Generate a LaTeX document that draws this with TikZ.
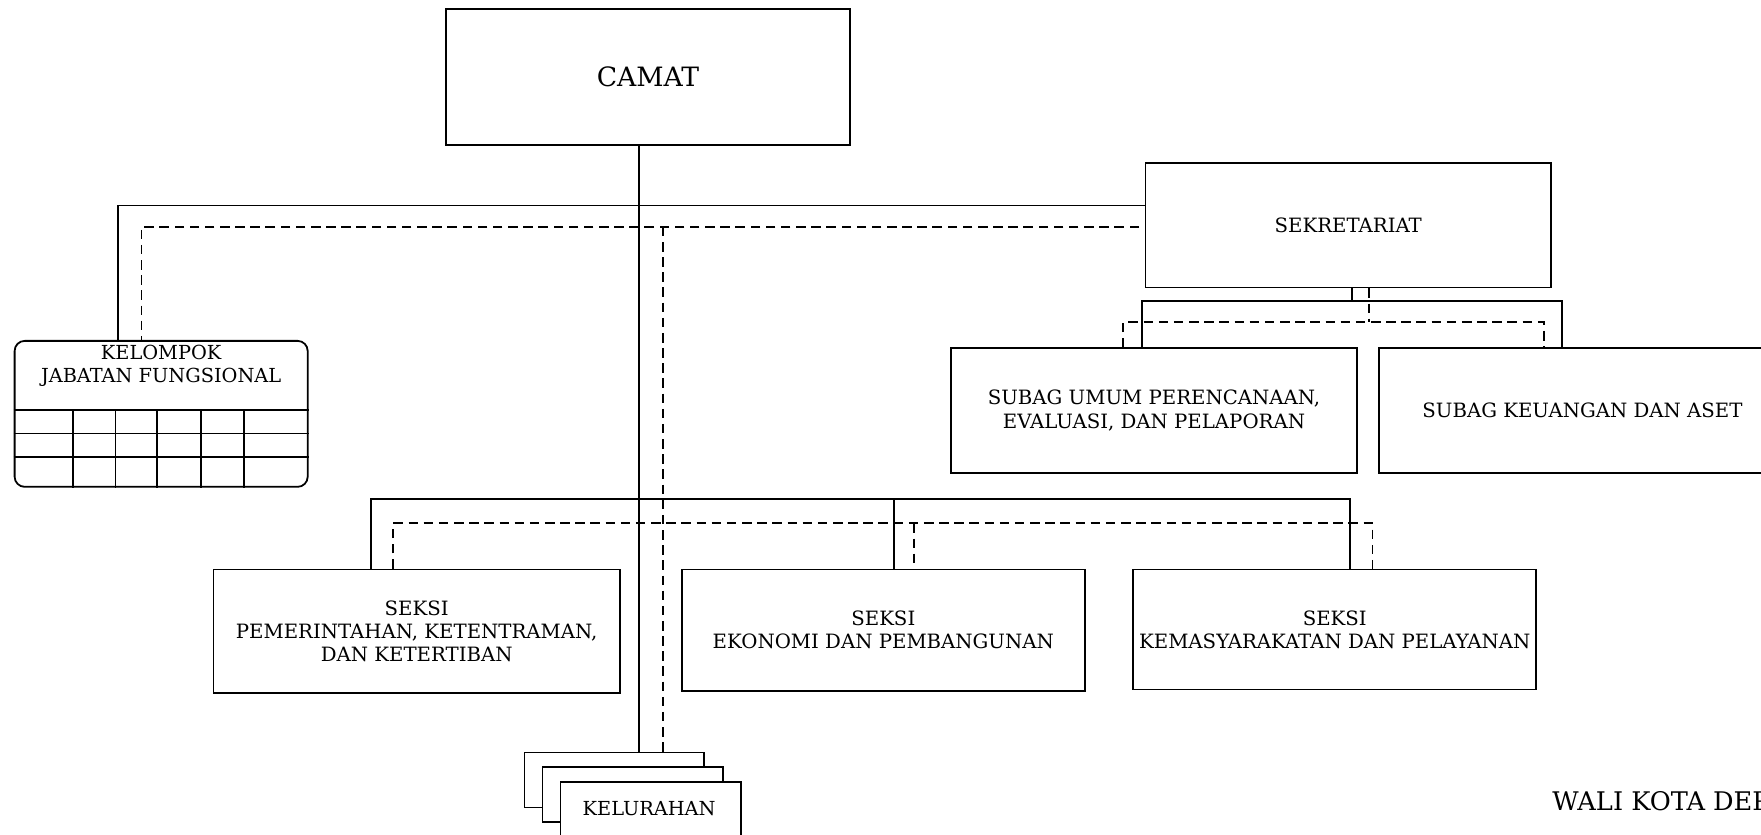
\documentclass[tikz,border=0pt]{standalone}
\usepackage{fontspec}
\setmainfont{DejaVu Serif}
\usetikzlibrary{calc}
\begin{document}
\begin{tikzpicture}[x=0.02cm,y=-0.02cm,
  box/.style={draw, line width=0.9pt, align=center, inner sep=0pt, font=\fontsize{10}{12.5}\selectfont},
  conn/.style={line width=0.9pt},
  dconn/.style={line width=0.9pt, dash pattern=on 0.17cm off 0.1cm},
  grid/.style={line width=0.8pt}]
\useasboundingbox (0,0) rectangle (1568,743);
\begin{scope}
\clip (0,0) rectangle (1568,743);
% boxes
\node[box, minimum width=7.2cm, minimum height=2.42cm, font=\fontsize{13.5}{16}\selectfont] (camat) at (577,68.5) {CAMAT};
\node[box, minimum width=7.22cm, minimum height=2.22cm] (sek) at (1200.5,200.5) {SEKRETARIAT};
\node[box, minimum width=7.22cm, minimum height=2.22cm] (sum) at (1027.5,365.5) {SUBAG UMUM PERENCANAAN,\\EVALUASI, DAN PELAPORAN};
\node[box, minimum width=7.24cm, minimum height=2.22cm] (skeu) at (1409,365.5) {SUBAG KEUANGAN DAN ASET};
\node[box, rounded corners=0.18cm, minimum width=5.22cm, minimum height=2.6cm] (kjf) at (143.5,368.5) {};
\node[font=\fontsize{9.8}{11.5}\selectfont, align=center] (kjft) at (143.5,326) {KELOMPOK\\JABATAN FUNGSIONAL};
\node[box, minimum width=7.24cm, minimum height=2.2cm, font=\fontsize{10}{11.5}\selectfont] (s1) at (371,562) {SEKSI\\PEMERINTAHAN, KETENTRAMAN,\\DAN KETERTIBAN};
\node[box, minimum width=7.18cm, minimum height=2.16cm, font=\fontsize{10}{11.5}\selectfont] (s2) at (786.5,561) {SEKSI\\EKONOMI DAN PEMBANGUNAN};
\node[box, minimum width=7.18cm, minimum height=2.14cm, font=\fontsize{10}{11.5}\selectfont] (s3) at (1188.5,560.5) {SEKSI\\KEMASYARAKATAN DAN PELAYANAN};
\node[box, fill=white, minimum width=3.2cm, minimum height=0.98cm] (kel1) at (547,694.5) {};
\node[box, fill=white, minimum width=3.22cm, minimum height=0.98cm] (kel2) at (563.5,707.5) {};
\node[box, fill=white, minimum width=3.22cm, minimum height=0.98cm] (kel3) at (579.5,720.5) {};
\node[font=\fontsize{9.8}{11}\selectfont] (keltxt) at (578,720) {KELURAHAN};
\node[anchor=west, font=\fontsize{13}{15}\selectfont] (wali) at (1376,713) {WALI KOTA DEPOK};
% kelompok grid
\foreach \yy in {365,386,407} \draw[grid] (kjf.west |- 0,\yy) -- (kjf.east |- 0,\yy);
\foreach \xx in {65,103,140,179,217} \draw[grid] (\xx,365) -- (kjf.south -| \xx,0);
% camat spine
\draw[conn] (camat.south -| 569,0) -- (kel1.north -| 569,0);
\draw[dconn] (590,202) -- (kel1.north -| 590,0);
% to kelompok and sekretariat
\draw[conn] (sek.west |- 0,183) -- (105,183) -- (kjf.north -| 105,0);
\draw[dconn] ($(sek.west |- 0,202)+(-5,0)$) -- (126,202) -- (kjf.north -| 126,0);
% sekretariat to subags
\draw[conn] (sek.south -| 1204,0) -- (1204,268);
\draw[conn] (sum.north -| 1017,0) -- (1017,268) -- (1391,268) -- (skeu.north -| 1391,0);
\draw[dconn] (sek.south -| 1219,0) -- (1219,287);
\draw[dconn] (sum.north -| 1000,0) -- (1000,287) -- (1375,287) -- (skeu.north -| 1375,0);
% seksi
\draw[conn] (s1.north -| 330,0) -- (330,444) -- (1202,444) -- (s3.north -| 1202,0);
\draw[conn] (796,444) -- (s2.north -| 796,0);
\draw[dconn] (s1.north -| 350,0) -- (350,466) -- (1222,466) -- (s3.north -| 1222,0);
\draw[dconn] (814,466) -- (s2.north -| 814,0);
\end{scope}
\end{tikzpicture}
\end{document}
